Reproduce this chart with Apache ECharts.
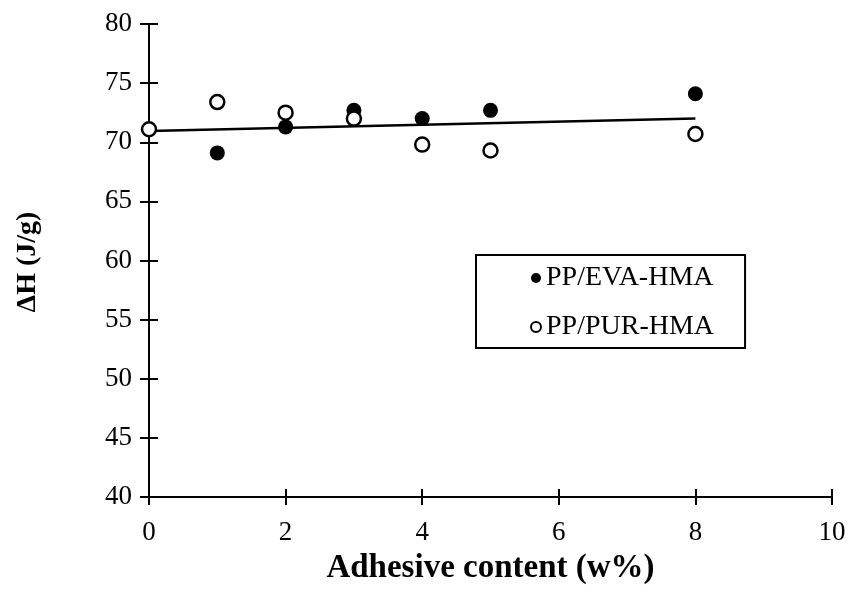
<!DOCTYPE html>
<html>
<head>
<meta charset="utf-8">
<script src="https://cdn.jsdelivr.net/npm/echarts@6/dist/echarts.min.js"></script>
<style>
  html, body { margin: 0; padding: 0; background: #fff; }
  #chart { width: 850px; height: 590px; }
</style>
</head>
<body>
<div id="chart"></div>
<script>
// Enthalpy of fusion versus adhesive content for the two blends
const contentPct = [0, 1, 2, 3, 4, 5, 8];
const evaValues = [71.1, 69.1, 71.3, 72.7, 72.0, 72.7, 74.1];
const purValues = [71.1, 73.4, 72.5, 72.0, 69.8, 69.3, 70.7];
// Linear trend drawn across the measured range
const trendX = [0, 8];
const trendY = [70.95, 72.0];
const xTicks = [0, 2, 4, 6, 8, 10];
const yTicks = [40, 45, 50, 55, 60, 65, 70, 75, 80];

const serif = '"Liberation Serif", "Times New Roman", serif';
const pairs = (xs, ys) => xs.map((x, i) => [x, ys[i]]);

const baseX = {
  type: 'value', min: xTicks[0], max: xTicks[xTicks.length - 1], interval: 2,
  splitLine: { show: false }
};
const baseY = {
  type: 'value', min: yTicks[0], max: yTicks[yTicks.length - 1], interval: 5,
  splitLine: { show: false }
};

const chart = echarts.init(document.getElementById('chart'));
chart.setOption({
  animation: false,
  backgroundColor: '#fff',
  grid: {
    left: 149, right: 18, top: 24, bottom: 93,
    containLabel: false,
    outerBoundsMode: 'none'
  },
  xAxis: [
    Object.assign({}, baseX, {
      name: 'Adhesive content (w%)',
      nameLocation: 'middle',
      nameGap: 55,
      nameMoveOverlap: false,
      nameTextStyle: { fontFamily: serif, fontSize: 33, fontWeight: 'bold', color: '#000' },
      axisLine: { lineStyle: { color: '#000', width: 2 } },
      axisTick: { inside: false, length: 8, lineStyle: { color: '#000', width: 2 } },
      axisLabel: { fontFamily: serif, fontSize: 27, color: '#000', margin: 22 }
    }),
    Object.assign({}, baseX, {
      position: 'bottom',
      axisLine: { show: false },
      axisTick: { inside: true, length: 8, lineStyle: { color: '#000', width: 2 } },
      axisLabel: { show: false }
    })
  ],
  yAxis: [
    Object.assign({}, baseY, {
      axisLine: { lineStyle: { color: '#000', width: 2 } },
      axisTick: { inside: false, length: 9, lineStyle: { color: '#000', width: 2 } },
      axisLabel: { fontFamily: serif, fontSize: 27, color: '#000', margin: 17 }
    }),
    Object.assign({}, baseY, {
      position: 'left',
      axisLine: { show: false },
      axisTick: { inside: true, length: 9, lineStyle: { color: '#000', width: 2 } },
      axisLabel: { show: false }
    })
  ],
  // Vertical axis title
  graphic: [
    {
      type: 'text',
      x: 28,
      y: 262,
      rotation: Math.PI / 2,
      style: {
        text: 'ΔH (J/g)',
        fontFamily: serif,
        fontSize: 28,
        fontWeight: 'bold',
        fill: '#000',
        align: 'center',
        verticalAlign: 'middle'
      }
    }
  ],
  legend: {
    orient: 'vertical',
    left: 476,
    top: 255,
    padding: [9, 31, 7, 54],
    itemGap: 21,
    itemWidth: 10,
    itemHeight: 10,
    borderColor: '#000',
    borderWidth: 2,
    backgroundColor: '#fff',
    textStyle: { fontFamily: serif, fontSize: 28, color: '#000' },
    data: [
      { name: 'PP/EVA-HMA', icon: 'circle', itemStyle: { color: '#000', borderWidth: 0 } },
      { name: 'PP/PUR-HMA', icon: 'circle', itemStyle: { color: '#fff', borderColor: '#000', borderWidth: 2 } }
    ]
  },
  series: [
    {
      name: 'trend',
      type: 'line',
      data: pairs(trendX, trendY),
      showSymbol: false,
      symbol: 'none',
      lineStyle: { color: '#000', width: 2.5 },
      z: 2
    },
    {
      name: 'PP/EVA-HMA',
      type: 'scatter',
      data: pairs(contentPct, evaValues),
      symbol: 'circle',
      symbolSize: 15,
      itemStyle: { color: '#000', opacity: 1 },
      z: 3
    },
    {
      name: 'PP/PUR-HMA',
      type: 'scatter',
      data: pairs(contentPct, purValues),
      symbol: 'circle',
      symbolSize: 14,
      itemStyle: { color: '#fff', borderColor: '#000', borderWidth: 2.5, opacity: 1 },
      z: 4
    }
  ]
});
</script>
</body>
</html>
